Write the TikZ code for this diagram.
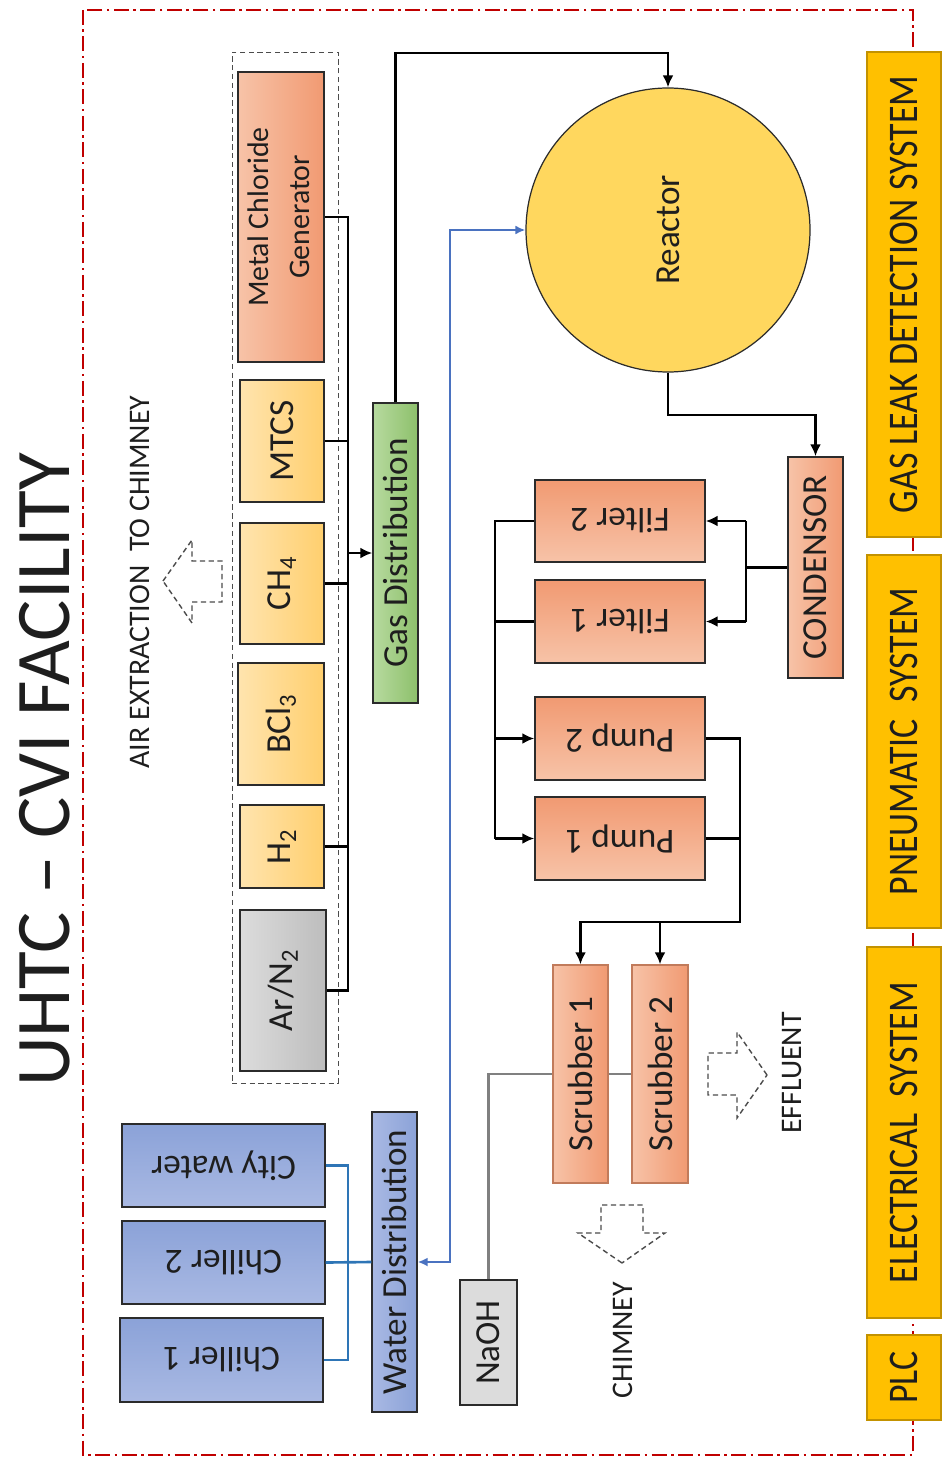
\documentclass[tikz,border=0pt]{standalone}
\usepackage{graphicx}
\usepackage{fontspec}
\setmainfont{Carlito}
\usetikzlibrary{arrows.meta, positioning, calc}

\definecolor{edge}{HTML}{2B2B2B}
\definecolor{ink}{HTML}{1E1E1E}
\definecolor{salL}{HTML}{F7C3A8}
\definecolor{salR}{HTML}{F19A72}
\definecolor{orgL}{HTML}{FFE4AE}
\definecolor{orgR}{HTML}{FFCF6E}
\definecolor{gryL}{HTML}{DCDCDC}
\definecolor{gryR}{HTML}{BDBDBD}
\definecolor{grnL}{HTML}{B7DA9F}
\definecolor{grnR}{HTML}{8DC06B}
\definecolor{bluL}{HTML}{A9B9E3}
\definecolor{bluR}{HTML}{8BA2D8}
\definecolor{reactfill}{HTML}{FFD75E}
\definecolor{sysfill}{HTML}{FFC000}
\definecolor{sysedge}{HTML}{C39200}
\definecolor{wblue}{HTML}{2E75B6}
\definecolor{cblue}{HTML}{4A72C0}
\definecolor{frame}{HTML}{C00000}

\newcommand{\vtxt}[1]{\rotatebox{90}{#1}}
\newcommand{\flip}[1]{\rotatebox{180}{#1}}

\begin{document}
\begin{tikzpicture}[x=0.02cm, y=-0.02cm,
  sz/.style 2 args={minimum width=#1*0.02cm, minimum height=#2*0.02cm},
  box/.style={draw=edge, line width=0.8pt, inner sep=0pt, text=ink,
              font=\fontsize{20}{23}\selectfont},
  hot/.style={box, left color=salL, right color=salR},
  hotflip/.style={box, top color=salR, bottom color=salL},
  feed/.style={box, left color=orgL, right color=orgR},
  inert/.style={box, left color=gryL, right color=gryR},
  mixer/.style={box, left color=grnL, right color=grnR},
  water/.style={box, left color=bluL, right color=bluR},
  cool/.style={box, top color=bluR, bottom color=bluL},
  sys/.style={box, fill=sysfill, draw=sysedge, font=\fontsize{24}{28}\selectfont},
  pipe/.style={line width=1.5pt, draw=black},
  flow/.style={pipe, -{Latex[length=2.4mm,width=2.2mm]}},
  wline/.style={line width=1.5pt, draw=wblue},
  cline/.style={line width=1.1pt, draw=cblue,
                {Latex[length=2mm,width=1.8mm]}-{Latex[length=2mm,width=1.8mm]}},
  bigarrow/.style={draw=black!70, densely dashed, line width=0.8pt, fill=white},
  lbl/.style={text=ink, font=\fontsize{17}{20}\selectfont}
]
\useasboundingbox (0,0) rectangle (942,1466);

% Facility frame
\draw[frame, line width=1.6pt, dash pattern=on 3mm off 0.9mm on 0.5mm off 0.9mm]
  (83,10) rectangle (913,1455);
\node[text=ink, font=\fontsize{44}{50}\selectfont] (title) at (45,770)
  {\vtxt{UHTC -- CVI FACILITY}};

% Gas supply
\node[draw=black!70, densely dashed, line width=0.5pt, sz={106}{1031}] (grp) at (285,567.5) {};
\node[hot, sz={86}{290}, font=\fontsize{17}{23}\selectfont] (mcg) at (281,217)
  {\vtxt{\begin{tabular}{@{}c@{}}Metal Chloride\\Generator\end{tabular}}};
\node[feed, sz={84}{122}] (mtcs) at (282,441) {\vtxt{MTCS}};
\node[feed, sz={84}{121}] (ch4) at (282,583.5) {\vtxt{CH\textsubscript{4}}};
\node[feed, sz={86}{122}] (bcl) at (281,724) {\vtxt{BCl\textsubscript{3}}};
\node[feed, sz={84}{83}] (h2) at (282,846.5) {\vtxt{H\textsubscript{2}}};
\node[inert, sz={86}{161}] (arn) at (283,990.5) {\vtxt{Ar/N\textsubscript{2}}};
\node[mixer, sz={45}{300}] (gasd) at (395.5,553) {\vtxt{Gas Distribution}};
\coordinate (gbus) at (348,0);
\coordinate (gtop) at (0,53);

% Reactor line
\node[circle, draw=edge, line width=0.7pt, fill=reactfill, inner sep=0pt,
      minimum size=284*0.02cm, text=ink, font=\fontsize{20}{23}\selectfont]
  (reactor) at (668,230) {\vtxt{Reactor}};
\node[hot, sz={55}{221}] (cond) at (815.5,567.5) {\vtxt{CONDENSOR}};
\node[hotflip, sz={170}{82}] (fil2) at (620,521) {\flip{Filter 2}};
\node[hotflip, sz={170}{83}] (fil1) at (620,621.5) {\flip{Filter 1}};
\node[hotflip, sz={170}{83}] (pump2) at (620,738.5) {\flip{Pump 2}};
\node[hotflip, sz={170}{83}] (pump1) at (620,838.5) {\flip{Pump 1}};
\coordinate (rbend) at (740,415);
\coordinate (fbus) at (746,0);
\coordinate (lbus) at (495,0);
\coordinate (sbend) at (740,922);

% Scrubbers
\node[hot, draw=salR!80!black, sz={55}{218}] (scrub1) at (580.5,1074) {\vtxt{Scrubber 1}};
\node[hot, draw=salR!80!black, sz={56}{218}] (scrub2) at (660,1074) {\vtxt{Scrubber 2}};
\node[inert, left color=gryL, right color=gryL, sz={57}{125}] (naoh) at (488.5,1342.5) {\vtxt{NaOH}};

% Cooling water
\node[water, sz={45}{300}] (wdist) at (394.5,1262) {\vtxt{Water Distribution}};
\node[cool, sz={203}{83}] (city) at (223.5,1165.5) {\flip{City water}};
\node[cool, sz={203}{83}] (chil2) at (223.5,1262.5) {\flip{Chiller 2}};
\node[cool, sz={203}{84}] (chil1) at (221.5,1360) {\flip{Chiller 1}};
\coordinate (wbus) at (348,0);
\coordinate (cbus) at (450,0);

% Services
\node[sys, sz={74}{485}] (gld) at (904,294.5) {\vtxt{\scalebox{0.85}[1]{GAS LEAK DETECTION SYSTEM}}};
\node[sys, sz={74}{373}] (pneu) at (904,741.5) {\vtxt{\scalebox{0.85}[1]{PNEUMATIC\ \ SYSTEM}}};
\node[sys, sz={74}{371}] (elec) at (904,1132.5) {\vtxt{\scalebox{0.85}[1]{ELECTRICAL\ \ SYSTEM}}};
\node[sys, sz={74}{85}] (plc) at (904,1377.5) {\vtxt{\scalebox{0.85}[1]{PLC}}};

% Exhaust arrows
\draw[bigarrow] (163,581) -- (192,540) -- (192,561) -- (222,561) -- (222,602)
  -- (192,602) -- (192,623) -- cycle;
\node[lbl] (air) at (140,582) {\vtxt{AIR EXTRACTION\ \ TO CHIMNEY}};
\draw[bigarrow] (622,1263) -- (578,1233) -- (601,1233) -- (601,1205) -- (643,1205)
  -- (643,1233) -- (665,1233) -- cycle;
\node[lbl] (chim) at (623,1340) {\vtxt{CHIMNEY}};
\draw[bigarrow] (767,1075) -- (737,1032) -- (737,1053) -- (708,1053) -- (708,1095)
  -- (737,1095) -- (737,1118) -- cycle;
\node[lbl] (eff) at (792,1073) {\vtxt{EFFLUENT}};

% Gas connections
\draw[pipe] (mcg.east) -- (mcg.east -| gbus) -- (arn.east -| gbus) -- (arn.east);
\draw[pipe] (mtcs.east) -- (mtcs.east -| gbus);
\draw[pipe] (ch4.east) -- (ch4.east -| gbus);
\draw[pipe] (h2.east) -- (h2.east -| gbus);
\draw[flow] (gasd.west -| gbus) -- (gasd.west);
\draw[flow] (gasd.north) -- (gasd.north |- gtop) -| (reactor.north);
\draw[flow] (reactor.south) |- (rbend) -| (cond.north);

% Filters and pumps
\draw[pipe] (cond.west) -- (cond.west -| fbus);
\draw[pipe] (fil2.east -| fbus) -- (fil1.east -| fbus);
\draw[flow] (fil2.east -| fbus) -- (fil2.east);
\draw[flow] (fil1.east -| fbus) -- (fil1.east);
\draw[pipe] (fil2.west) -- (fil2.west -| lbus) -- (pump1.west -| lbus);
\draw[pipe] (fil1.west) -- (fil1.west -| lbus);
\draw[flow] (pump2.west -| lbus) -- (pump2.west);
\draw[flow] (pump1.west -| lbus) -- (pump1.west);
\draw[flow] (pump2.east) -| (sbend) -| (scrub1.north);
\draw[pipe] (pump1.east) -- (pump1.east -| sbend);
\draw[flow] (scrub2.north |- sbend) -- (scrub2.north);

% NaOH feed
\draw[line width=1.2pt, draw=black!50] (naoh.north) |- (scrub1.west);
\draw[line width=1.2pt, draw=black!50] (scrub1.east) -- (scrub2.west);

% Water connections
\draw[wline] (city.east) -- (city.east -| wbus) -- (chil1.east -| wbus) -- (chil1.east);
\draw[wline] (chil2.east) -- (wdist.west);
\draw[cline] (wdist.east) -- (wdist.east -| cbus) |- (reactor.west);
\end{tikzpicture}
\end{document}
